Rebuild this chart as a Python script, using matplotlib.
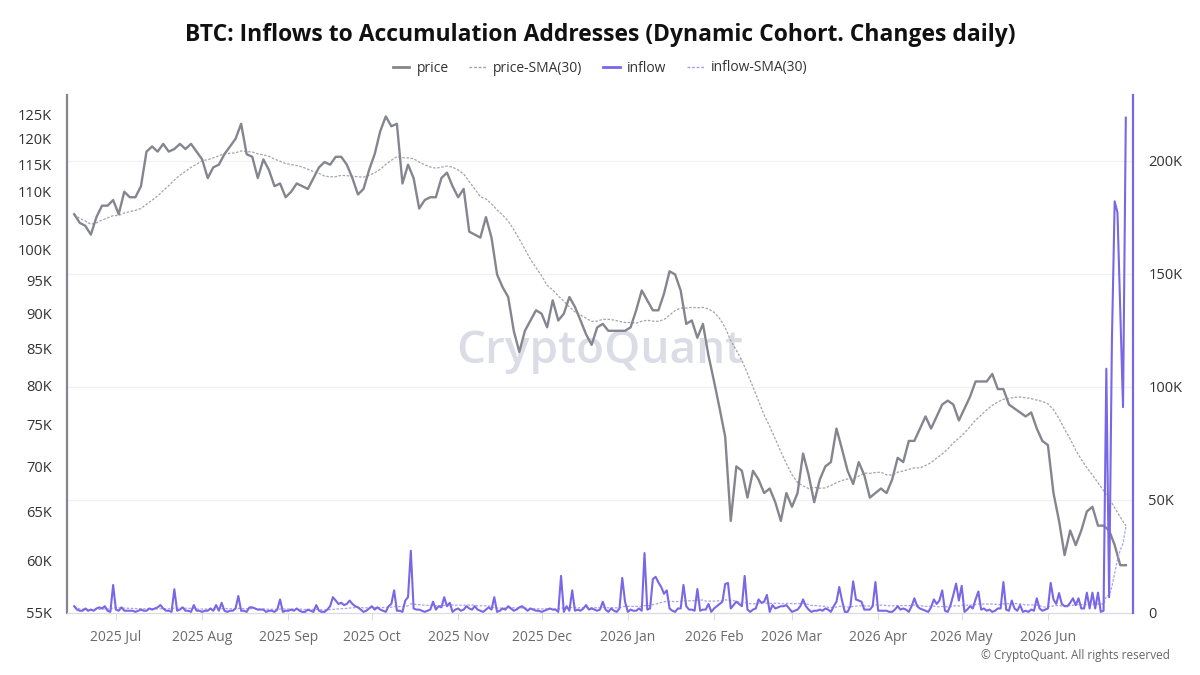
import numpy as np
import pandas as pd
import matplotlib
matplotlib.use("Agg")
import matplotlib.pyplot as plt
import matplotlib.dates as mdates
from matplotlib.ticker import FixedLocator, NullLocator
from matplotlib.lines import Line2D

plt.rcParams["font.family"] = ["Open Sans", "DejaVu Sans"]

# ---------------------------------------------------------------------------
# data
# ---------------------------------------------------------------------------
price_start = "2025-06-16"          # one value every 2 days, in K USD
price_k = [
    106, 104.5, 104, 102.5, 105.5, 107.5, 107.5, 108.5, 106, 110,
    109, 109, 111, 117.5, 118.5, 117.5, 119, 117.5, 118, 119,
    118, 119, 117.5, 116, 112.5, 114.5, 115, 117, 118.5, 120,
    123, 117, 116.5, 112.5, 116, 114, 111, 111.5, 109, 110,
    111.5, 111, 110.5, 112.5, 114.5, 115.5, 115, 116.5, 116.5, 115,
    112.5, 109.5, 110.5, 114, 117, 121.5, 124.5, 122.5, 123, 111.5,
    115, 112.5, 107, 108.5, 109, 109, 112.5, 113.5, 111, 109,
    110.5, 103, 102.5, 102, 105.5, 102, 96, 94, 92.5, 87.5,
    84.5, 87.5, 89, 90.5, 90, 88, 92, 89, 90, 92.5,
    91, 89, 87, 85.5, 88, 88.5, 87.5, 87.5, 87.5, 87.5,
    88, 90.5, 93.5, 92, 90.5, 90.5, 93, 96.5, 96, 93.5,
    88.5, 89, 86.5, 88.5, 84, 80.5, 77, 73.5, 64, 70,
    69.5, 66.5, 69.5, 68.5, 67, 67.5, 66, 64, 67, 65.5,
    67, 71.5, 69, 66, 68.5, 70, 70.5, 74.5, 72, 69.5,
    68, 70.5, 69, 66.5, 67, 67.5, 67, 68.5, 71, 70.5,
    73, 73, 74.5, 76, 74.5, 76, 77.5, 78, 77.5, 75.5,
    77, 78.5, 80.5, 80.5, 80.5, 81.5, 79.5, 79.5, 77.5, 77,
    76.5, 76, 76.5, 74.5, 73, 72.5, 67, 64, 60.5, 63,
    61.5, 63, 65, 65.5, 63.5, 63.5, 63, 61.5, 59.5, 59.5,
]

inflow_start = "2025-06-16"         # daily, in K BTC
inflow_k = [
    3, 1.5, 1, 1, 2, 1, 1.5, 1, 2, 2.5,
    2, 3, 1, 0.5, 12.4, 1.5, 1, 2.5, 1, 1,
    1, 1, 0.5, 1, 1.5, 1, 1, 2, 1.5, 2,
    2.5, 3.5, 2, 1, 1, 0.5, 10.5, 1, 1.5, 2.5,
    1, 1, 0.5, 3.5, 1, 1, 0.5, 1, 1, 2,
    1, 3.5, 1, 4.5, 1, 0.5, 1, 1, 2, 7.5,
    1, 1, 0.5, 2.5, 2.5, 2, 1.5, 1.5, 1.5, 0.5,
    1, 1, 0.5, 1.5, 6, 0.5, 1, 1, 1.5, 1,
    2, 1, 0.5, 0.5, 1.5, 1, 0.5, 3.5, 1, 0.5,
    0.5, 1.5, 3, 7, 5.5, 4, 4.5, 3.5, 4, 5.5,
    4, 3, 2.5, 1.5, 0.5, 1, 2, 3, 1.5, 2.5,
    1.5, 1, 0.5, 3, 4, 10, 1, 1, 0.5, 5.5,
    7, 27.5, 2, 1.5, 1.5, 1, 0.5, 1, 1.5, 5,
    1.5, 3, 2.5, 7, 3, 4.5, 0.5, 1.5, 2, 1,
    1.5, 3, 2, 1.5, 3, 1.5, 1, 0.5, 1.5, 2.5,
    1.5, 7, 0.5, 1, 2, 1.5, 3, 2, 1, 1.5,
    2.5, 3, 2, 1, 2, 1.5, 1, 1, 0.5, 1,
    1.5, 2, 1.5, 1.5, 0.5, 16.4, 0.5, 3, 1, 10,
    1, 1.5, 1, 2, 3.5, 1.5, 2, 1.5, 1, 1.5,
    5, 1.5, 0.5, 2, 1, 0.5, 2, 15.5, 5, 0.5,
    1.5, 1, 1, 2, 1, 26.5, 1.5, 2, 15, 16,
    13.5, 11.5, 8.5, 10, 2, 1, 0.5, 2, 2, 12.4,
    3, 1.5, 1.5, 1, 10.6, 1, 1.5, 1.5, 4, 0.5,
    2, 3, 4, 5, 12.8, 13.3, 2, 3.5, 5, 4,
    3, 16.4, 1.5, 0.5, 1.5, 2, 6, 4.5, 5, 8,
    0.5, 3.5, 2, 2.5, 3, 3, 3.5, 2, 0.5, 1,
    1.5, 3, 6, 3, 1.5, 0.5, 1, 1, 1.5, 1,
    2, 1.5, 0.5, 3, 5, 11.5, 5.5, 0.5, 0.5, 3,
    14, 6, 5.5, 5, 1.5, 1.5, 1.5, 3, 13.7, 1,
    1, 1, 1, 0.5, 0.5, 1.5, 3, 1.5, 2, 1.5,
    0.5, 3, 6.5, 3, 2, 1.5, 1, 0.5, 2.5, 6,
    4, 5.5, 10, 1, 0.5, 3.5, 8, 13, 5.5, 12,
    0.5, 1.5, 3, 2, 6, 9.5, 1.5, 2, 1, 1.5,
    0.5, 1, 2, 2, 13.7, 1.5, 1, 5.5, 2, 1,
    3.5, 0.5, 1, 0.5, 1.5, 1, 6.5, 2, 1, 1.5,
    2, 13.3, 6, 4, 8.8, 4, 3, 3, 4.5, 6.5,
    3.5, 6.5, 2, 2, 9, 2, 9, 2, 9, 0.5,
    1, 108, 7, 120, 182, 177, 134, 91, 219,
]

left_ticks = [55000, 60000, 65000, 70000, 75000, 80000, 85000, 90000,
              95000, 100000, 105000, 110000, 115000, 120000, 125000]
right_ticks = [0, 50000, 100000, 150000, 200000]
month_ticks = pd.date_range("2025-07-01", "2026-06-01", freq="MS")

title = "BTC: Inflows to Accumulation Addresses (Dynamic Cohort. Changes daily)"

price = pd.Series(np.array(price_k) * 1000,
                  index=pd.date_range(price_start, periods=len(price_k), freq="2D"))
inflow = pd.Series(np.array(inflow_k) * 1000,
                   index=pd.date_range(inflow_start, periods=len(inflow_k), freq="D"))
price_sma = price.rolling("30D").mean()
inflow_sma = inflow.rolling("30D").mean()

# ---------------------------------------------------------------------------
# colours
# ---------------------------------------------------------------------------
c_price = "#85858f"
c_price_sma = "#a3a3aa"
c_inflow = "#7867e6"
c_inflow_sma = "#a89ef0"

fig = plt.figure(figsize=(12, 6.75), dpi=100)
ax = fig.add_axes([67 / 1200, 62 / 675, 1066 / 1200, 518 / 675])
ax2 = ax.twinx()

r_top = 229000
# faint grid at the right-axis ticks, drawn below everything
for v in right_ticks[1:]:
    ax.plot([0, 1], [v / r_top] * 2, transform=ax.transAxes,
            color="#f1f1f3", lw=0.9, zorder=0)

ax.text(0.5, 0.504, "CryptoQuant", transform=ax.transAxes, ha="center",
        va="center", fontsize=33, fontweight="semibold", color="#dcdce7",
        zorder=0.5)

ax.plot(price_sma.index, price_sma.values, color=c_price_sma, lw=0.9,
        ls=(0, (2, 1.3)))
ax.plot(price.index, price.values, color=c_price, lw=1.7)
ax2.plot(inflow_sma.index, inflow_sma.values, color=c_inflow_sma, lw=0.9,
         ls=(0, (2, 1.3)))
ax2.plot(inflow.index, inflow.values, color=c_inflow, lw=1.5)

ax.set_yscale("log")
ax.set_ylim(55000, 128970)
ax.yaxis.set_major_locator(FixedLocator(left_ticks))
ax.yaxis.set_minor_locator(NullLocator())
ax.set_yticklabels([f"{int(t / 1000)}K" for t in left_ticks])

ax2.set_ylim(0, r_top)
ax2.yaxis.set_major_locator(FixedLocator(right_ticks))
ax2.set_yticklabels(["0" if t == 0 else f"{int(t / 1000)}K" for t in right_ticks])

ax.set_xlim(pd.Timestamp("2025-06-13 10:00"), pd.Timestamp("2026-07-01 14:00"))
ax.set_xticks(month_ticks)
ax.set_xticklabels([d.strftime("%Y %b") for d in month_ticks])

for s in ("top", "right"):
    ax.spines[s].set_visible(False)
for s in ("top", "left", "bottom"):
    ax2.spines[s].set_visible(False)
ax.spines["left"].set_color(c_price)
ax.spines["left"].set_linewidth(1.6)
ax.spines["bottom"].set_color("#dcdce0")
ax.spines["bottom"].set_linewidth(0.9)
ax2.spines["right"].set_color(c_inflow)
ax2.spines["right"].set_linewidth(1.6)

ax.tick_params(axis="y", length=0, pad=11, labelsize=10.5, labelcolor="#333333")
ax2.tick_params(axis="y", length=0, pad=11, labelsize=10.5, labelcolor="#333333")
ax.tick_params(axis="x", length=5, color="#dcdce0", pad=7, labelsize=10,
               labelcolor="#6a6a6a")

fig.text(0.5, 1 - 35 / 675, title, ha="center", va="center", fontsize=16.5,
         fontweight="bold", color="#111111")

handles = [
    Line2D([], [], color=c_price, lw=2),
    Line2D([], [], color=c_price_sma, lw=1, ls=(0, (2, 1.3))),
    Line2D([], [], color=c_inflow, lw=2),
    Line2D([], [], color=c_inflow_sma, lw=1, ls=(0, (2, 1.3))),
]
fig.legend(handles, ["price", "price-SMA(30)", "inflow", "inflow-SMA(30)"],
           loc="center", bbox_to_anchor=(0.5, 1 - 68 / 675), ncol=4,
           frameon=False, fontsize=10, handlelength=1.2, handletextpad=0.5,
           columnspacing=1.5, labelcolor="#333333")

fig.text(1170 / 1200, 1 - 655 / 675, "© CryptoQuant. All rights reserved",
         ha="right", va="center", fontsize=8.5, color="#666666")

fig.savefig("out.png", dpi=100)
